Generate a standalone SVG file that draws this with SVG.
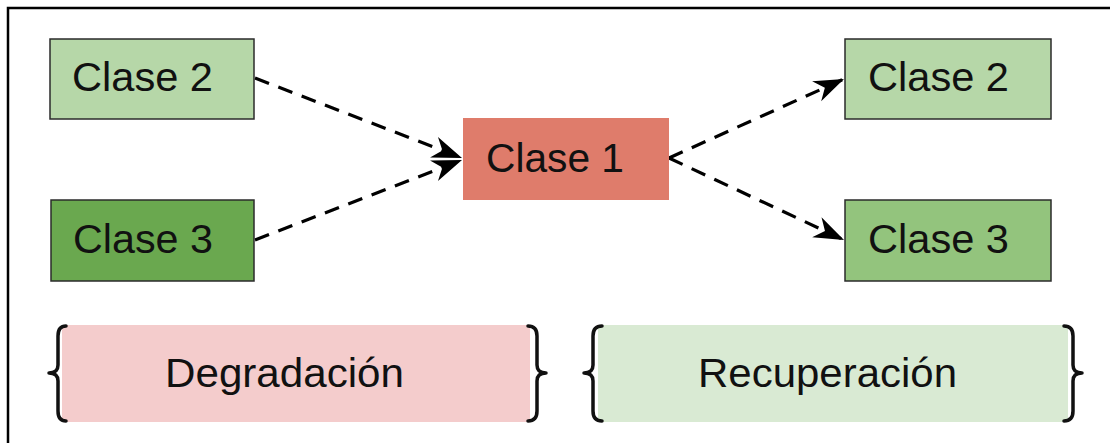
<svg xmlns="http://www.w3.org/2000/svg" width="1110" height="443" viewBox="0 0 1110 443">
<style>
.lbl{font-family:"Liberation Sans",Arial,sans-serif;font-size:41px;fill:#111}
.box{stroke:#2b2b2b;stroke-width:1.5}
.conn{fill:none;stroke:#000;stroke-width:3.2;stroke-dasharray:15 10}
.brace{fill:none;stroke:#111;stroke-width:3.5;stroke-linecap:round;stroke-linejoin:round}
</style>
<defs>
<marker id="ah" markerUnits="userSpaceOnUse" markerWidth="32" markerHeight="26" viewBox="0 0 32 26" refX="30" refY="13" orient="auto">
<path d="M0,2 L30,13 L0,24 L9,13 Z" fill="#000"/>
</marker>
</defs>
<rect x="0" y="0" width="1110" height="443" fill="#fff"/>
<rect x="8" y="8" width="1200" height="500" fill="none" stroke="#000" stroke-width="2.5"/>
<g id="connectors">
<line class="conn" x1="255" y1="78" x2="462" y2="158" marker-end="url(#ah)"/>
<line class="conn" x1="255" y1="240" x2="462" y2="160" marker-end="url(#ah)"/>
<line class="conn" x1="669" y1="158" x2="844" y2="79" marker-end="url(#ah)"/>
<line class="conn" x1="669" y1="158" x2="844" y2="240" marker-end="url(#ah)"/>
</g>
<g id="clase2-left">
<rect class="box" x="50" y="39" width="204" height="80" fill="#b6d7a8"/>
<text class="lbl" x="72" y="91" textLength="141" lengthAdjust="spacingAndGlyphs">Clase 2</text>
</g>
<g id="clase3-left">
<rect class="box" x="51" y="200" width="203" height="81" fill="#6aa84f"/>
<text class="lbl" x="73" y="253" textLength="140" lengthAdjust="spacingAndGlyphs">Clase 3</text>
</g>
<g id="clase1">
<rect x="463" y="118" width="206" height="82" fill="#df7c6b"/>
<text class="lbl" x="486" y="172" textLength="138" lengthAdjust="spacingAndGlyphs">Clase 1</text>
</g>
<g id="clase2-right">
<rect class="box" x="845" y="39" width="206" height="80" fill="#b6d7a8"/>
<text class="lbl" x="868" y="91" textLength="141" lengthAdjust="spacingAndGlyphs">Clase 2</text>
</g>
<g id="clase3-right">
<rect class="box" x="845" y="200" width="206" height="81" fill="#93c47d"/>
<text class="lbl" x="868" y="253" textLength="141" lengthAdjust="spacingAndGlyphs">Clase 3</text>
</g>
<g id="degradacion">
<rect x="62" y="325" width="468" height="97" fill="#f4cccc"/>
<path class="brace" d="M66,326 Q58,326 58,336 L58,365 Q58,373 49,373 Q58,373 58,381 L58,411 Q58,421 66,421"/>
<path class="brace" d="M528,326 Q537,326 537,336 L537,365 Q537,373 546,373 Q537,373 537,381 L537,411 Q537,421 528,421"/>
<text class="lbl" x="165" y="387" textLength="239" lengthAdjust="spacingAndGlyphs">Degradación</text>
</g>
<g id="recuperacion">
<rect x="598" y="325" width="470" height="97" fill="#d9ead3"/>
<path class="brace" d="M602,326 Q593,326 593,336 L593,365 Q593,373 584,373 Q593,373 593,381 L593,411 Q593,421 602,421"/>
<path class="brace" d="M1064,326 Q1073,326 1073,336 L1073,365 Q1073,373 1082,373 Q1073,373 1073,381 L1073,411 Q1073,421 1064,421"/>
<text class="lbl" x="698" y="387" textLength="259" lengthAdjust="spacingAndGlyphs">Recuperación</text>
</g>
</svg>
